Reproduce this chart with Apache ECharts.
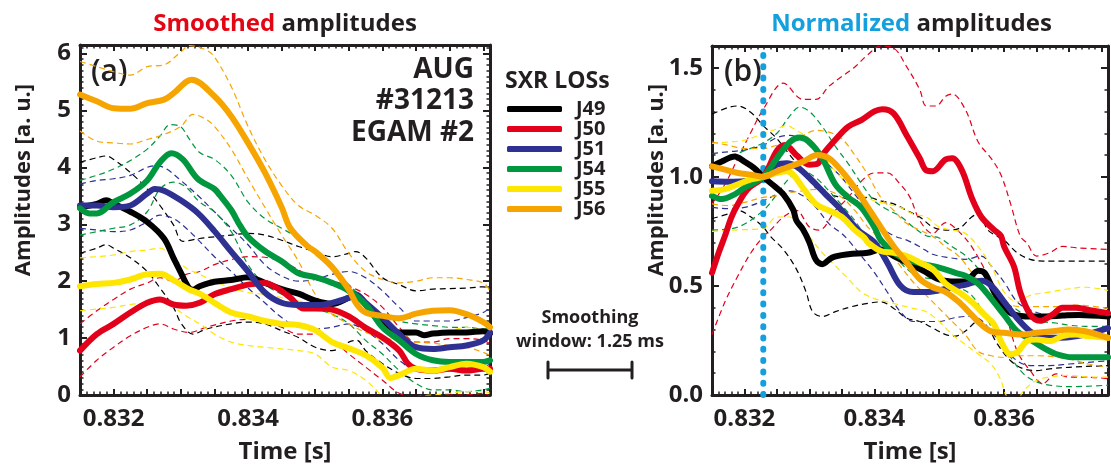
<!DOCTYPE html>
<html><head><meta charset="utf-8">
<script src="https://cdn.jsdelivr.net/npm/echarts/dist/echarts.min.js"></script>
<style>html,body{margin:0;padding:0;background:#fff}#c{width:1111px;height:469px}</style>
</head><body><div id="c"></div>
<script>
// ---------------- DATA ----------------
const CHANNELS = ['J49','J50','J51','J54','J55','J56'];
const X_TICK_LABELS = [0.832, 0.834, 0.836];
const T_RANGE = [0.8315, 0.8376];
const Y_RANGE_A = [0, 6.15];
const Y_RANGE_B = [0, 1.6];
const T0_NORM = 0.83229;          // normalization time (dotted line)
const SMOOTH_WINDOW = 0.00125;    // 1.25 ms

// (a) smoothed amplitudes  [time s, amplitude]
const A_J49 = [[0.8315,3.30],[0.83175,3.36],[0.83189,3.42],[0.832,3.36],[0.83225,3.22],[0.8325,3.04],[0.83275,2.75],[0.83289,2.41],[0.833,2.15],[0.83311,1.90],[0.83318,1.85],[0.83328,1.91],[0.8335,1.99],[0.83375,2.02],[0.834,2.07],[0.83425,1.97],[0.8345,1.86],[0.83475,1.78],[0.835,1.66],[0.83525,1.60],[0.8355,1.71],[0.8356,1.76],[0.83575,1.59],[0.836,1.25],[0.83625,1.10],[0.8365,1.10],[0.83662,1.05],[0.83675,1.08],[0.837,1.10],[0.83725,1.10],[0.8375,1.12],[0.8376,1.08]];
const A_J50 = [[0.8315,0.78],[0.83175,1.07],[0.832,1.25],[0.83225,1.45],[0.8325,1.62],[0.83269,1.68],[0.83289,1.59],[0.83308,1.57],[0.83328,1.62],[0.8335,1.77],[0.83375,1.86],[0.834,1.94],[0.83425,1.97],[0.83443,1.88],[0.83463,1.71],[0.83483,1.52],[0.835,1.52],[0.83525,1.50],[0.8355,1.38],[0.83575,1.18],[0.836,1.01],[0.83625,0.78],[0.83638,0.55],[0.8365,0.46],[0.83675,0.43],[0.837,0.46],[0.83725,0.43],[0.8375,0.46],[0.8376,0.46]];
const A_J51 = [[0.8315,3.33],[0.83175,3.33],[0.832,3.30],[0.83225,3.33],[0.8325,3.54],[0.83261,3.62],[0.83275,3.59],[0.833,3.42],[0.83325,3.20],[0.8335,2.88],[0.83375,2.52],[0.834,2.17],[0.83425,1.80],[0.8345,1.62],[0.83475,1.58],[0.835,1.58],[0.83525,1.62],[0.8355,1.71],[0.8356,1.77],[0.83575,1.62],[0.836,1.36],[0.83625,1.07],[0.8365,0.84],[0.83675,0.81],[0.837,0.84],[0.83725,0.87],[0.8375,0.96],[0.8376,1.10]];
const A_J54 = [[0.8315,3.28],[0.83164,3.19],[0.83175,3.19],[0.832,3.39],[0.83225,3.54],[0.8325,3.77],[0.83269,4.09],[0.83286,4.25],[0.83303,4.14],[0.83325,3.80],[0.8335,3.62],[0.83358,3.51],[0.83375,3.25],[0.83388,2.98],[0.834,2.78],[0.83425,2.53],[0.8345,2.35],[0.83475,2.14],[0.835,2.07],[0.83525,1.97],[0.8355,1.83],[0.83575,1.59],[0.836,1.19],[0.83625,0.96],[0.8365,0.72],[0.83675,0.61],[0.837,0.58],[0.83725,0.58],[0.8375,0.58],[0.8376,0.61]];
const A_J55 = [[0.8315,1.91],[0.83175,1.95],[0.832,1.97],[0.83225,2.03],[0.8325,2.12],[0.83269,2.13],[0.83289,2.02],[0.83313,1.85],[0.83328,1.78],[0.8335,1.62],[0.83375,1.45],[0.834,1.38],[0.83425,1.30],[0.8345,1.25],[0.83475,1.23],[0.835,1.14],[0.83525,0.93],[0.8355,0.82],[0.83575,0.70],[0.836,0.48],[0.83612,0.30],[0.83625,0.35],[0.8365,0.46],[0.83675,0.43],[0.837,0.49],[0.83725,0.55],[0.8375,0.49],[0.8376,0.41]];
const A_J56 = [[0.8315,5.28],[0.83175,5.16],[0.832,5.04],[0.83225,5.03],[0.8325,5.13],[0.83275,5.19],[0.83289,5.30],[0.83316,5.54],[0.8335,5.25],[0.83375,4.90],[0.834,4.43],[0.83425,3.91],[0.8345,3.30],[0.83463,2.93],[0.83488,2.62],[0.835,2.52],[0.83525,2.25],[0.8355,1.85],[0.83562,1.59],[0.83575,1.45],[0.836,1.39],[0.83625,1.35],[0.8365,1.43],[0.83675,1.48],[0.837,1.49],[0.83725,1.42],[0.8375,1.28],[0.8376,1.19]];

const A_J49_HI = [[0.8315,4.09],[0.83175,4.17],[0.83189,4.20],[0.832,4.14],[0.83225,3.91],[0.8325,3.62],[0.83269,3.33],[0.83289,2.99],[0.83303,2.70],[0.83328,2.75],[0.8335,2.78],[0.83375,2.81],[0.834,2.84],[0.83425,2.81],[0.8345,2.72],[0.83475,2.61],[0.835,2.52],[0.83525,2.43],[0.8355,2.49],[0.8356,2.52],[0.83575,2.41],[0.836,2.06],[0.83625,1.94],[0.8365,1.83],[0.83675,1.86],[0.837,1.87],[0.83725,1.88],[0.8375,1.90],[0.8376,1.88]];
const A_J49_LO = [[0.8315,2.49],[0.83175,2.58],[0.83189,2.64],[0.832,2.58],[0.83225,2.41],[0.8325,2.17],[0.83269,1.88],[0.83289,1.54],[0.83301,1.25],[0.83318,1.07],[0.83338,1.16],[0.83375,1.25],[0.834,1.28],[0.83425,1.25],[0.8345,1.13],[0.83475,1.01],[0.835,0.84],[0.83525,0.78],[0.8355,0.93],[0.83562,0.96],[0.83575,0.78],[0.836,0.55],[0.83625,0.38],[0.8365,0.29],[0.83675,0.29],[0.837,0.32],[0.83725,0.35],[0.8375,0.35],[0.8376,0.38]];
const A_J50_HI = [[0.8315,1.25],[0.83175,1.48],[0.832,1.68],[0.83225,1.86],[0.8325,1.97],[0.83269,2.06],[0.83289,2.00],[0.83308,2.12],[0.83328,2.17],[0.8335,2.29],[0.83375,2.38],[0.834,2.43],[0.83425,2.42],[0.8345,2.35],[0.83475,2.20],[0.835,2.03],[0.83525,2.00],[0.8355,1.91],[0.83575,1.77],[0.836,1.54],[0.83625,1.19],[0.8365,0.93],[0.83675,0.93],[0.837,0.99],[0.83725,0.99],[0.8375,0.96],[0.8376,0.90]];
const A_J50_LO = [[0.8315,0.32],[0.83175,0.61],[0.832,0.84],[0.83225,1.04],[0.8325,1.19],[0.83269,1.25],[0.83289,1.16],[0.83313,1.10],[0.83338,1.19],[0.83375,1.30],[0.834,1.33],[0.83425,1.30],[0.8345,1.19],[0.83475,1.07],[0.835,1.07],[0.83525,0.96],[0.8355,0.72],[0.83575,0.49],[0.836,0.26],[0.83625,0.03],[0.8365,-0.03],[0.83675,-0.03],[0.837,0.00],[0.83725,0.00],[0.8375,0.03],[0.8376,-0.03]];
const A_J51_HI = [[0.8315,3.71],[0.83175,3.77],[0.832,3.80],[0.83225,3.86],[0.8325,4.00],[0.83264,4.03],[0.83279,3.97],[0.833,3.77],[0.83325,3.51],[0.8335,3.22],[0.83375,2.93],[0.834,2.64],[0.83425,2.29],[0.8345,2.09],[0.83475,2.00],[0.835,2.03],[0.83525,2.12],[0.8355,2.17],[0.83575,2.06],[0.836,1.83],[0.83625,1.54],[0.8365,1.30],[0.83675,1.30],[0.837,1.30],[0.83725,1.36],[0.8375,1.45],[0.8376,1.54]];
const A_J51_LO = [[0.8315,2.93],[0.83175,2.90],[0.832,2.87],[0.83225,2.90],[0.8325,3.04],[0.83269,3.16],[0.83289,3.10],[0.83308,2.93],[0.83328,2.70],[0.8335,2.43],[0.83375,2.17],[0.834,1.88],[0.83425,1.62],[0.8345,1.36],[0.83475,1.19],[0.835,1.16],[0.83525,1.19],[0.8355,1.25],[0.83575,1.13],[0.836,0.90],[0.83625,0.61],[0.8365,0.43],[0.83675,0.41],[0.837,0.43],[0.83725,0.46],[0.8375,0.49],[0.8376,0.55]];
const A_J54_HI = [[0.8315,3.77],[0.83175,3.86],[0.832,3.97],[0.83225,4.12],[0.8325,4.32],[0.83269,4.55],[0.83284,4.75],[0.83299,4.72],[0.83313,4.49],[0.83328,4.26],[0.8335,4.14],[0.83375,3.86],[0.834,3.39],[0.83425,3.10],[0.8345,2.93],[0.83475,2.75],[0.835,2.49],[0.83525,2.23],[0.8355,1.94],[0.83575,1.65],[0.836,1.42],[0.83625,1.30],[0.8365,1.25],[0.83675,1.22],[0.837,1.19],[0.83725,1.19],[0.8375,1.16],[0.8376,1.19]];
const A_J54_LO = [[0.8315,2.81],[0.83175,2.87],[0.832,2.93],[0.83225,2.99],[0.8325,3.22],[0.83269,3.62],[0.83289,3.74],[0.83308,3.65],[0.83328,3.39],[0.8335,3.22],[0.83375,2.87],[0.834,2.29],[0.83425,1.94],[0.8345,1.77],[0.83475,1.59],[0.835,1.51],[0.83525,1.42],[0.8355,1.25],[0.83575,0.96],[0.836,0.72],[0.83625,0.43],[0.8365,0.20],[0.83675,0.09],[0.837,0.09],[0.83725,0.06],[0.8375,0.09],[0.8376,0.12]];
const A_J55_HI = [[0.8315,2.41],[0.83175,2.43],[0.832,2.46],[0.83225,2.52],[0.8325,2.55],[0.83269,2.58],[0.83289,2.41],[0.83308,2.23],[0.83328,2.12],[0.8335,2.00],[0.83375,1.88],[0.834,1.80],[0.83425,1.77],[0.8345,1.71],[0.83475,1.65],[0.835,1.59],[0.83525,1.42],[0.8355,1.36],[0.83575,1.19],[0.836,0.96],[0.83625,1.01],[0.8365,1.07],[0.83675,1.10],[0.837,1.13],[0.83725,1.19],[0.8375,1.13],[0.8376,1.07]];
const A_J55_LO = [[0.8315,1.48],[0.83175,1.51],[0.832,1.54],[0.83225,1.59],[0.8325,1.62],[0.83269,1.65],[0.83289,1.54],[0.83308,1.39],[0.83328,1.25],[0.8335,1.07],[0.83375,0.93],[0.834,0.87],[0.83425,0.84],[0.8345,0.81],[0.83475,0.78],[0.835,0.72],[0.83525,0.49],[0.8355,0.43],[0.83575,0.26],[0.836,-0.03],[0.83612,-0.20],[0.83625,-0.09],[0.8365,-0.03],[0.83675,0.00],[0.837,0.03],[0.83725,0.06],[0.8375,0.06],[0.8376,0.03]];
const A_J56_HI = [[0.8315,5.86],[0.83175,5.77],[0.832,5.68],[0.83225,5.62],[0.8325,5.77],[0.83275,5.80],[0.833,6.03],[0.83313,6.14],[0.83338,6.06],[0.8335,5.94],[0.83375,5.42],[0.834,4.72],[0.83425,4.14],[0.8345,3.68],[0.83475,3.33],[0.835,3.16],[0.83525,2.93],[0.8355,2.49],[0.83575,2.17],[0.836,2.03],[0.83625,1.97],[0.8365,2.00],[0.83675,2.06],[0.837,2.06],[0.83725,2.03],[0.8375,1.97],[0.8376,1.83]];
const A_J56_LO = [[0.8315,4.64],[0.83175,4.46],[0.832,4.43],[0.83225,4.41],[0.8325,4.49],[0.83275,4.58],[0.833,4.72],[0.83318,4.93],[0.83338,4.84],[0.8335,4.72],[0.83375,4.32],[0.834,3.80],[0.83425,3.30],[0.8345,2.81],[0.83475,2.35],[0.835,1.77],[0.83525,1.42],[0.8355,1.25],[0.83575,1.10],[0.836,1.01],[0.83625,0.96],[0.8365,0.93],[0.83675,0.91],[0.837,0.87],[0.83725,0.84],[0.8375,0.75],[0.8376,0.70]];

// (b) normalized amplitudes  [time s, amplitude]
const B_J49 = [[0.8315,1.048],[0.83165,1.07],[0.83185,1.093],[0.832,1.07],[0.83215,1.04],[0.83229,1.0],[0.83245,0.96],[0.8326,0.92],[0.83275,0.85],[0.8328,0.80],[0.8329,0.76],[0.833,0.70],[0.8331,0.62],[0.8332,0.60],[0.83335,0.63],[0.8336,0.645],[0.8339,0.652],[0.8341,0.667],[0.8343,0.637],[0.8345,0.607],[0.83475,0.57],[0.835,0.53],[0.83525,0.52],[0.8354,0.52],[0.8356,0.57],[0.8357,0.56],[0.83585,0.47],[0.836,0.40],[0.83615,0.37],[0.8364,0.36],[0.83665,0.36],[0.8369,0.364],[0.83715,0.367],[0.8376,0.36]];
const B_J50 = [[0.8315,0.56],[0.8316,0.65],[0.8317,0.73],[0.8318,0.816],[0.8319,0.876],[0.83205,0.944],[0.83229,1.0],[0.8325,1.12],[0.832625,1.146],[0.8328,1.10],[0.833,1.056],[0.833125,1.06],[0.8332,1.10],[0.8334,1.17],[0.8336,1.23],[0.8338,1.26],[0.834,1.30],[0.834125,1.31],[0.8343,1.29],[0.8345,1.19],[0.8347,1.085],[0.8348,1.03],[0.8349,1.026],[0.8351,1.08],[0.8352,1.085],[0.83535,1.03],[0.8355,0.905],[0.83565,0.816],[0.83585,0.756],[0.83595,0.73],[0.836,0.68],[0.83615,0.59],[0.83625,0.47],[0.8364,0.37],[0.83655,0.34],[0.83675,0.37],[0.8369,0.40],[0.8371,0.40],[0.8373,0.39],[0.8376,0.375]];
const B_J51 = [[0.8315,0.98],[0.83175,0.978],[0.832,0.98],[0.83229,1.0],[0.8325,1.056],[0.83265,1.063],[0.8328,1.048],[0.833,0.996],[0.83325,0.92],[0.8335,0.846],[0.83375,0.756],[0.834,0.70],[0.8342,0.607],[0.8344,0.502],[0.8346,0.472],[0.8348,0.472],[0.835,0.48],[0.8352,0.494],[0.8354,0.505],[0.83565,0.524],[0.8358,0.502],[0.836,0.427],[0.8362,0.352],[0.8364,0.292],[0.8366,0.263],[0.8368,0.263],[0.837,0.265],[0.83725,0.277],[0.8376,0.307]];
const B_J54 = [[0.8315,0.913],[0.83165,0.898],[0.83185,0.92],[0.832,0.95],[0.83229,1.0],[0.8325,1.085],[0.8327,1.16],[0.83285,1.18],[0.833,1.16],[0.8332,1.085],[0.8334,0.966],[0.8336,0.906],[0.8338,0.86],[0.834,0.77],[0.8341,0.71],[0.8343,0.652],[0.8345,0.622],[0.83475,0.60],[0.835,0.584],[0.83525,0.56],[0.8354,0.547],[0.8356,0.51],[0.8358,0.442],[0.836,0.367],[0.8362,0.292],[0.8364,0.255],[0.8366,0.217],[0.8368,0.188],[0.83705,0.173],[0.8373,0.173],[0.8376,0.173]];
const B_J55 = [[0.8315,0.936],[0.8317,0.944],[0.8319,0.966],[0.8321,0.988],[0.83229,1.0],[0.8325,1.018],[0.83265,1.026],[0.83275,1.01],[0.8329,0.95],[0.8331,0.876],[0.8333,0.846],[0.8335,0.816],[0.8337,0.756],[0.83385,0.72],[0.8339,0.70],[0.8341,0.66],[0.8343,0.652],[0.8345,0.637],[0.8347,0.607],[0.8349,0.577],[0.8351,0.51],[0.8353,0.472],[0.8355,0.427],[0.8357,0.367],[0.83585,0.322],[0.83595,0.247],[0.8361,0.188],[0.8362,0.195],[0.83635,0.247],[0.8365,0.255],[0.8367,0.247],[0.8369,0.27],[0.8371,0.277],[0.8373,0.27],[0.8376,0.262]];
const B_J56 = [[0.8315,1.048],[0.8317,1.033],[0.8319,1.018],[0.8321,1.01],[0.83229,1.0],[0.8325,1.026],[0.8327,1.048],[0.8329,1.07],[0.833125,1.10],[0.8333,1.085],[0.8335,1.026],[0.8337,0.95],[0.8339,0.86],[0.8341,0.77],[0.8343,0.681],[0.8345,0.607],[0.8347,0.532],[0.8349,0.494],[0.8351,0.472],[0.8353,0.427],[0.8355,0.367],[0.83565,0.322],[0.8358,0.292],[0.836,0.285],[0.83625,0.277],[0.8365,0.285],[0.83675,0.292],[0.837,0.30],[0.83725,0.292],[0.8376,0.262]];

const B_J49_HI = [[0.8315,1.288],[0.83175,1.318],[0.8319,1.325],[0.8321,1.295],[0.83229,1.235],[0.8325,1.175],[0.8327,1.10],[0.8329,1.026],[0.8331,0.95],[0.8333,0.92],[0.8335,0.906],[0.8337,0.89],[0.8339,0.906],[0.8341,0.89],[0.8343,0.876],[0.8345,0.846],[0.8347,0.816],[0.8349,0.77],[0.8351,0.756],[0.8353,0.763],[0.8355,0.816],[0.8356,0.83],[0.83575,0.756],[0.8359,0.727],[0.836,0.71],[0.8362,0.652],[0.8364,0.622],[0.8366,0.614],[0.8376,0.614]];
const B_J49_LO = [[0.8315,0.809],[0.83175,0.83],[0.8319,0.846],[0.8321,0.816],[0.83229,0.77],[0.8324,0.727],[0.8326,0.667],[0.8328,0.577],[0.83295,0.472],[0.83305,0.382],[0.8332,0.36],[0.8334,0.382],[0.83365,0.405],[0.8339,0.42],[0.8341,0.427],[0.8343,0.397],[0.8345,0.352],[0.8347,0.337],[0.8349,0.307],[0.8351,0.277],[0.83525,0.27],[0.8354,0.292],[0.8356,0.337],[0.83575,0.307],[0.8359,0.232],[0.8361,0.157],[0.8363,0.12],[0.8365,0.112],[0.8367,0.12],[0.837,0.127],[0.8376,0.135]];
const B_J50_HI = [[0.8315,0.876],[0.8317,0.966],[0.8319,1.086],[0.8321,1.205],[0.83229,1.31],[0.8326,1.43],[0.8329,1.355],[0.8331,1.355],[0.8333,1.415],[0.8335,1.46],[0.8337,1.504],[0.8339,1.56],[0.8341,1.60],[0.8343,1.59],[0.8345,1.504],[0.8347,1.40],[0.8348,1.325],[0.83495,1.325],[0.8351,1.37],[0.8352,1.38],[0.8354,1.31],[0.8356,1.16],[0.8358,1.085],[0.83595,1.01],[0.8361,0.876],[0.83625,0.727],[0.83635,0.697],[0.8365,0.637],[0.8367,0.652],[0.8369,0.681],[0.83715,0.674],[0.8376,0.667]];
const B_J50_LO = [[0.8315,0.277],[0.8317,0.427],[0.8319,0.547],[0.8321,0.652],[0.83229,0.727],[0.8324,0.756],[0.8326,0.816],[0.8328,0.846],[0.833,0.77],[0.83315,0.756],[0.8334,0.846],[0.8336,0.906],[0.8338,0.98],[0.834,1.018],[0.8342,1.018],[0.8344,0.966],[0.83455,0.906],[0.8347,0.80],[0.8349,0.74],[0.8351,0.79],[0.8353,0.75],[0.8355,0.68],[0.8357,0.577],[0.8359,0.472],[0.836,0.40],[0.8362,0.202],[0.8364,0.112],[0.8366,0.053],[0.8368,0.097],[0.837,0.082],[0.83725,0.082],[0.8376,0.075]];
const B_J51_HI = [[0.8315,1.107],[0.83175,1.115],[0.832,1.123],[0.83229,1.145],[0.8325,1.18],[0.8327,1.19],[0.8329,1.168],[0.8331,1.115],[0.8333,1.055],[0.8335,0.996],[0.8337,0.92],[0.8339,0.846],[0.8341,0.77],[0.8343,0.73],[0.8345,0.71],[0.8347,0.68],[0.8349,0.645],[0.83515,0.63],[0.8354,0.622],[0.83565,0.637],[0.8358,0.592],[0.836,0.517],[0.8362,0.427],[0.8364,0.39],[0.8367,0.367],[0.837,0.367],[0.8373,0.375],[0.8376,0.382]];
const B_J51_LO = [[0.8315,0.86],[0.83175,0.854],[0.832,0.86],[0.83229,0.89],[0.8325,0.92],[0.8327,0.936],[0.8329,0.913],[0.8331,0.86],[0.8333,0.786],[0.8335,0.74],[0.8336,0.71],[0.8338,0.637],[0.834,0.562],[0.8342,0.472],[0.8344,0.382],[0.8346,0.337],[0.8348,0.337],[0.835,0.337],[0.8352,0.352],[0.8354,0.36],[0.8356,0.352],[0.8358,0.292],[0.836,0.217],[0.8362,0.157],[0.8364,0.135],[0.8367,0.135],[0.837,0.142],[0.8373,0.15],[0.8376,0.157]];
const B_J54_HI = [[0.8315,1.06],[0.83175,1.09],[0.832,1.12],[0.83225,1.15],[0.8325,1.20],[0.8327,1.28],[0.83285,1.32],[0.833,1.30],[0.8332,1.23],[0.8334,1.14],[0.8336,1.06],[0.8338,0.97],[0.834,0.89],[0.8342,0.85],[0.8344,0.82],[0.8346,0.77],[0.8348,0.73],[0.835,0.72],[0.8352,0.68],[0.8354,0.64],[0.8356,0.58],[0.8358,0.50],[0.836,0.43],[0.8362,0.39],[0.8364,0.35],[0.8366,0.335],[0.8368,0.33],[0.837,0.32],[0.83725,0.315],[0.8376,0.315]];
const B_J54_LO = [[0.8315,0.756],[0.8319,0.77],[0.83229,0.846],[0.8325,0.92],[0.8327,0.996],[0.8329,1.026],[0.8331,0.996],[0.8333,0.936],[0.8335,0.87],[0.8337,0.80],[0.8339,0.72],[0.8342,0.68],[0.8344,0.607],[0.83465,0.547],[0.8349,0.532],[0.8351,0.517],[0.8353,0.494],[0.8355,0.457],[0.8357,0.367],[0.8359,0.262],[0.8361,0.173],[0.8363,0.097],[0.8365,0.06],[0.8367,0.045],[0.837,0.038],[0.8376,0.045]];
const B_J55_HI = [[0.8315,1.153],[0.83175,1.16],[0.832,1.168],[0.83229,1.198],[0.8325,1.22],[0.83265,1.235],[0.8328,1.213],[0.833,1.175],[0.8332,1.10],[0.8334,1.026],[0.8336,0.966],[0.8338,0.92],[0.834,0.89],[0.8342,0.876],[0.8344,0.86],[0.8346,0.83],[0.8348,0.816],[0.835,0.77],[0.8352,0.756],[0.8354,0.741],[0.8356,0.68],[0.8358,0.592],[0.836,0.472],[0.8362,0.427],[0.8364,0.457],[0.8367,0.472],[0.837,0.487],[0.83725,0.494],[0.8376,0.48]];
const B_J55_LO = [[0.8315,0.75],[0.8319,0.757],[0.83229,0.764],[0.8325,0.816],[0.8327,0.816],[0.8329,0.77],[0.833,0.727],[0.8332,0.652],[0.8334,0.592],[0.8336,0.532],[0.8338,0.472],[0.834,0.442],[0.8342,0.427],[0.8344,0.412],[0.8346,0.397],[0.8348,0.382],[0.835,0.337],[0.8352,0.277],[0.8354,0.232],[0.8356,0.188],[0.8358,0.142],[0.83595,0.068],[0.83605,-0.01],[0.8362,-0.02],[0.8363,0.02],[0.8365,0.068],[0.8367,0.082],[0.837,0.09],[0.8373,0.082],[0.8376,0.082]];
const B_J56_HI = [[0.8315,1.16],[0.83175,1.145],[0.832,1.13],[0.83229,1.13],[0.8325,1.145],[0.8327,1.16],[0.8329,1.19],[0.8331,1.213],[0.8333,1.205],[0.8335,1.175],[0.8337,1.10],[0.8339,1.01],[0.8341,0.906],[0.8343,0.846],[0.8345,0.786],[0.8347,0.756],[0.8349,0.727],[0.8351,0.68],[0.8353,0.637],[0.8355,0.562],[0.8357,0.487],[0.8359,0.442],[0.8361,0.412],[0.8363,0.405],[0.8365,0.405],[0.8368,0.405],[0.8371,0.412],[0.8376,0.397]];
const B_J56_LO = [[0.8315,0.876],[0.83175,0.868],[0.832,0.883],[0.83229,0.906],[0.8325,0.913],[0.8327,0.928],[0.8329,0.936],[0.8331,0.943],[0.8333,0.936],[0.8335,0.906],[0.8337,0.846],[0.8339,0.77],[0.834,0.741],[0.8342,0.667],[0.8344,0.592],[0.8346,0.517],[0.8348,0.457],[0.835,0.397],[0.8352,0.337],[0.8354,0.277],[0.8356,0.20],[0.8358,0.18],[0.836,0.172],[0.8362,0.18],[0.8365,0.18],[0.837,0.165],[0.8373,0.142],[0.8376,0.127]];

const PANEL_A = {J49:[A_J49,A_J49_HI,A_J49_LO], J50:[A_J50,A_J50_HI,A_J50_LO], J51:[A_J51,A_J51_HI,A_J51_LO], J54:[A_J54,A_J54_HI,A_J54_LO], J55:[A_J55,A_J55_HI,A_J55_LO], J56:[A_J56,A_J56_HI,A_J56_LO]};
const PANEL_B = {J49:[B_J49,B_J49_HI,B_J49_LO], J50:[B_J50,B_J50_HI,B_J50_LO], J51:[B_J51,B_J51_HI,B_J51_LO], J54:[B_J54,B_J54_HI,B_J54_LO], J55:[B_J55,B_J55_HI,B_J55_LO], J56:[B_J56,B_J56_HI,B_J56_LO]};

// ---------------- STYLE ----------------
const INK = '#231f20';
const FONT = '"Open Sans", "Noto Sans", "DejaVu Sans", sans-serif';
const COLORS = {J49:'#000000', J50:'#e3001b', J51:'#2e3192', J54:'#00973f', J55:'#ffe600', J56:'#f6a500'};
const RED_T = '#e30613', BLUE_T = '#14a0de';

function isLabelTick(v){ return X_TICK_LABELS.some(t => Math.abs(t - v) < 1e-7); }

function xAx(grid, pos, labels){
  const a = {
    type:'value', gridIndex:grid, position:pos, min:T_RANGE[0], max:T_RANGE[1], interval:0.0005,
    axisLine:{show:true, onZero:false, lineStyle:{color:INK, width:3}},
    axisTick:{show:true, inside:true, length:6, lineStyle:{color:INK, width:2}},
    minorTick:{show:true, splitNumber:5, length:3.5, lineStyle:{color:INK, width:1.5}},
    splitLine:{show:false}, minorSplitLine:{show:false},
    axisLabel:{show:false}
  };
  if (labels){
    a.axisLabel = {show:true, margin:12, color:INK, fontFamily:FONT, fontWeight:'bold', fontSize:24,
      formatter:v => isLabelTick(v) ? v.toFixed(3) : ''};
    a.name = 'Time [s]'; a.nameLocation = 'middle'; a.nameGap = 45;
    a.nameTextStyle = {color:INK, fontFamily:FONT, fontWeight:'bold', fontSize:24};
  }
  return a;
}
function yAx(grid, pos, labels, range, interval, minorSplit, fmt){
  const a = {
    type:'value', gridIndex:grid, position:pos, min:range[0], max:range[1], interval:interval,
    axisLine:{show:true, onZero:false, lineStyle:{color:INK, width:3}},
    axisTick:{show:true, inside:true, length:7, lineStyle:{color:INK, width:2}},
    minorTick:{show:true, splitNumber:minorSplit, length:3.5, lineStyle:{color:INK, width:1.5}},
    splitLine:{show:false}, minorSplitLine:{show:false},
    axisLabel:{show:false}
  };
  if (labels){
    a.axisLabel = {show:true, margin:9, color:INK, fontFamily:FONT, fontWeight:'bold', fontSize:24, formatter:fmt};
  }
  return a;
}

const series = [];
function addPanel(panel, xi, yi){
  CHANNELS.forEach(ch => {
    const [mid, hi, lo] = panel[ch];
    [hi, lo].forEach((d, k) => series.push({
      name: ch + (k ? ' low' : ' high'), type:'line', xAxisIndex:xi, yAxisIndex:yi, data:d,
      showSymbol:false, smooth:0.35, silent:true, z:2, color:COLORS[ch],
      lineStyle:{width:1.2, type:[6,4], color:COLORS[ch]}
    }));
  });
  CHANNELS.forEach(ch => series.push({
    name: ch, type:'line', xAxisIndex:xi, yAxisIndex:yi, data:panel[ch][0],
    showSymbol:false, smooth:0.35, silent:true, z:4, color:COLORS[ch],
    lineStyle:{width:6, color:COLORS[ch], cap:'round', join:'round'}
  }));
}
addPanel(PANEL_A, 0, 0);
addPanel(PANEL_B, 2, 2);
// normalization time marker on panel (b): dotted vertical line at T0_NORM across the y range
series.push({
  name:'t0', type:'line', xAxisIndex:2, yAxisIndex:2, silent:true, z:3, showSymbol:false,
  data:[[T0_NORM, Y_RANGE_B[0]], [T0_NORM, Y_RANGE_B[1]]],
  color:BLUE_T,
  lineStyle:{color:BLUE_T, width:6, type:[1, 10.3], cap:'round'}
});

const G = [{left:80, top:45, width:410, height:356}, {left:712, top:46, width:407, height:356}];

const option = {
  animation:false,
  textStyle:{fontFamily:FONT},
  grid: G,
  legend:{data:CHANNELS, orient:'vertical', left:507, top:99, itemWidth:55, itemHeight:6, icon:'roundRect',
    itemGap:0, padding:0, selectedMode:false,
    textStyle:{fontFamily:FONT, fontWeight:'bold', fontSize:20, color:INK, lineHeight:20, padding:[0,0,0,9]}},
  xAxis:[xAx(0,'bottom',true), xAx(0,'top',false), xAx(1,'bottom',true), xAx(1,'top',false)],
  yAxis:[
    yAx(0,'left',true, Y_RANGE_A, 1, 10, v => Number.isInteger(Math.round(v*1000)/1000) ? String(Math.round(v)) : ''),
    yAx(0,'right',false, Y_RANGE_A, 1, 10),
    yAx(1,'left',true, Y_RANGE_B, 0.5, 5, v => Math.abs(v*2 - Math.round(v*2)) < 1e-6 ? v.toFixed(1) : ''),
    yAx(1,'right',false, Y_RANGE_B, 0.5, 5)
  ],
  series: series
};

const chart = echarts.init(document.getElementById('c'), null, {renderer:'canvas'});
chart.setOption(option);

// annotations
const cxA = G[0].left + G[0].width/2, cxB = G[1].left + G[1].width/2;
const px0 = chart.convertToPixel({xAxisIndex:0}, T_RANGE[0]);
const px1 = chart.convertToPixel({xAxisIndex:0}, T_RANGE[0] + SMOOTH_WINDOW);
const barW = px1 - px0, barCx = 590, barY = 370;
const bold = s => 'bold ' + s + 'px ' + FONT;
const yName = x => ({type:'text', x:x, y:180, rotation:Math.PI/2,
  style:{text:'Amplitudes [a. u.]', font:bold(22), fill:INK, textAlign:'center', textVerticalAlign:'middle'}});
chart.setOption({graphic:[
  {type:'text', x:cxA, y:24, style:{text:'{r|Smoothed}{k| amplitudes}', textAlign:'center', textVerticalAlign:'middle',
    rich:{r:{fill:RED_T, font:bold(24)}, k:{fill:INK, font:bold(24)}}}},
  {type:'text', x:cxB - 4, y:24, style:{text:'{r|Normalized}{k| amplitudes}', textAlign:'center', textVerticalAlign:'middle',
    rich:{r:{fill:BLUE_T, font:bold(24)}, k:{fill:INK, font:bold(24)}}}},
  yName(24), yName(657),
  {type:'text', x:91, y:72, style:{text:'(a)', font:'600 30px ' + FONT, fill:INK, textVerticalAlign:'middle'}},
  {type:'text', x:724, y:72, style:{text:'(b)', font:'600 30px ' + FONT, fill:INK, textVerticalAlign:'middle'}},
  {type:'text', x:474, y:70, style:{text:'AUG', font:bold(28), fill:INK, textAlign:'right', textVerticalAlign:'middle'}},
  {type:'text', x:474, y:101, style:{text:'#31213', font:bold(28), fill:INK, textAlign:'right', textVerticalAlign:'middle'}},
  {type:'text', x:474, y:133, style:{text:'EGAM #2', font:bold(28), fill:INK, textAlign:'right', textVerticalAlign:'middle'}},
  {type:'text', x:505, y:81, style:{text:'SXR LOSs', font:bold(23), fill:INK, textVerticalAlign:'middle'}},
  {type:'text', x:590, y:318, style:{text:'Smoothing', font:bold(18), fill:INK, textAlign:'center', textVerticalAlign:'middle'}},
  {type:'text', x:590, y:342, style:{text:'window: 1.25 ms', font:bold(18), fill:INK, textAlign:'center', textVerticalAlign:'middle'}},
  {type:'line', shape:{x1:barCx-barW/2, y1:barY, x2:barCx+barW/2, y2:barY}, style:{stroke:INK, lineWidth:3}},
  {type:'line', shape:{x1:barCx-barW/2, y1:barY-8, x2:barCx-barW/2, y2:barY+8}, style:{stroke:INK, lineWidth:3, lineCap:'round'}},
  {type:'line', shape:{x1:barCx+barW/2, y1:barY-8, x2:barCx+barW/2, y2:barY+8}, style:{stroke:INK, lineWidth:3, lineCap:'round'}}
]});
</script></body></html>
